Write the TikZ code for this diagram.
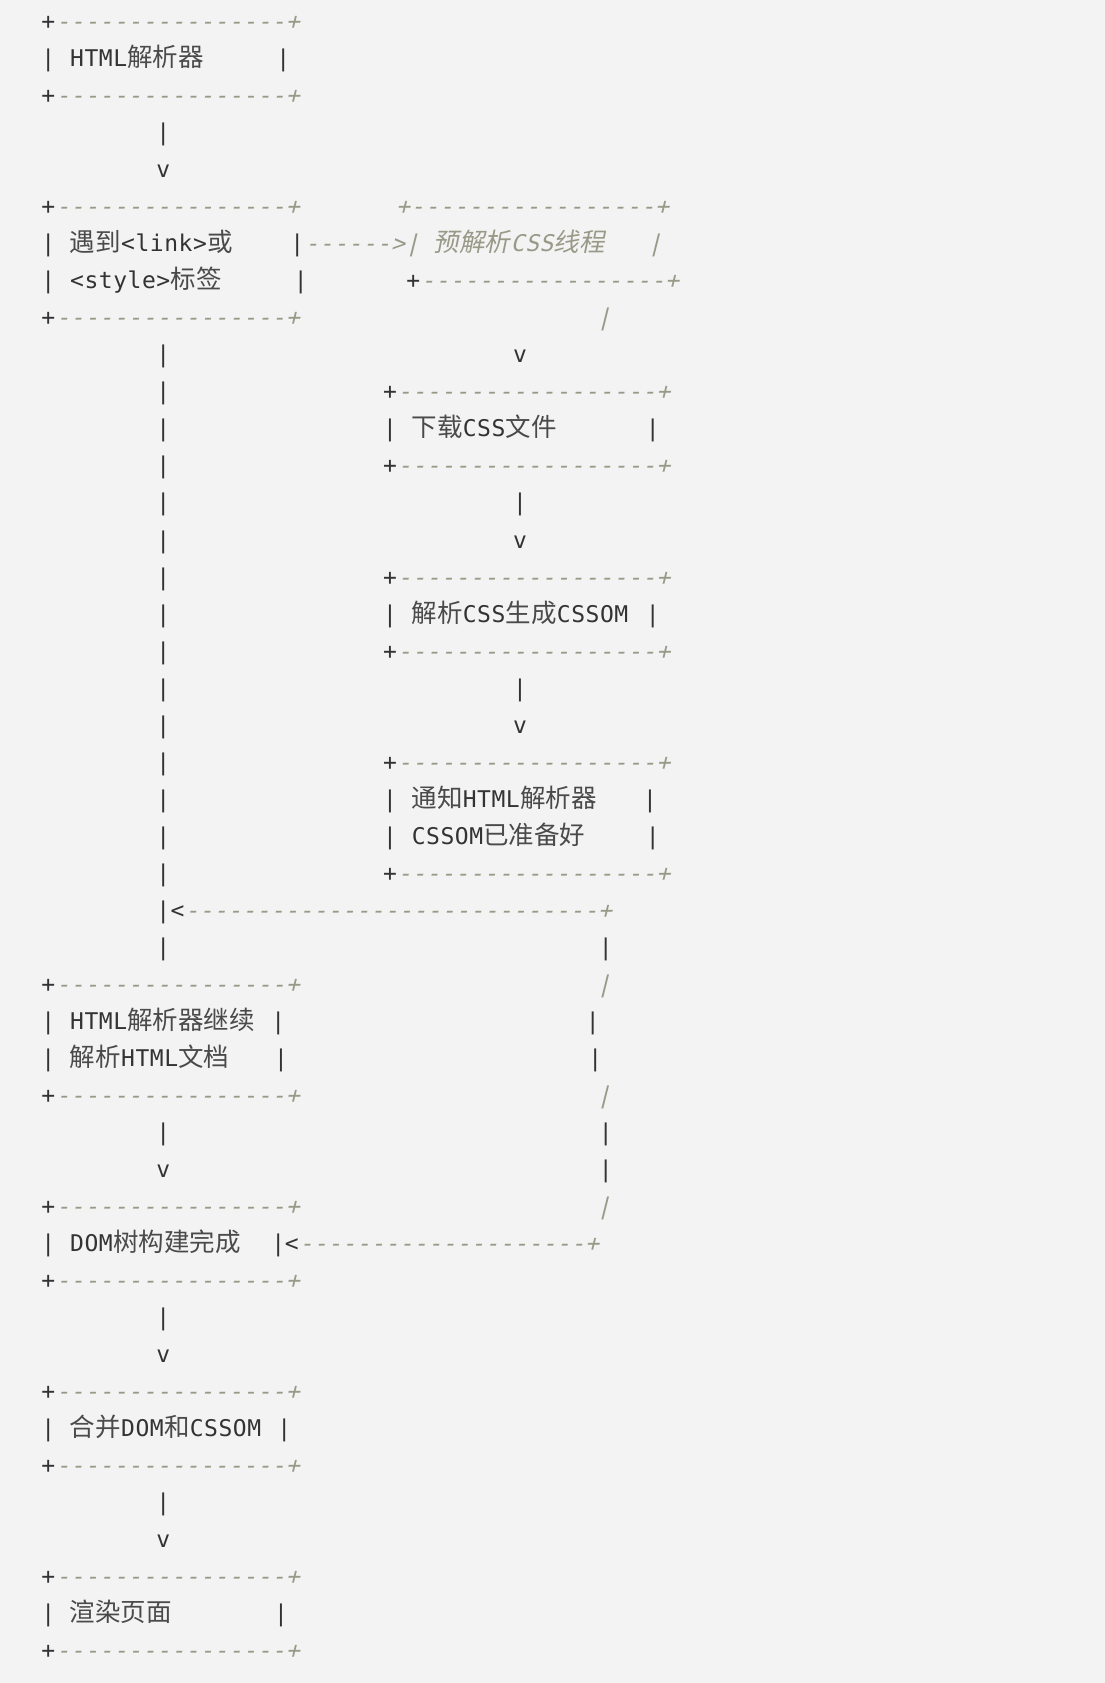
\documentclass[tikz,border=0pt]{standalone}
\usepackage{fontspec}
\newfontfamily\monof[ItalicFont={DejaVu Sans Mono}, ItalicFeatures={FakeSlant=0.25}]{DejaVu Sans Mono}
\newfontfamily\cjkf{Noto Sans CJK SC}
\newfontfamily\cjkitf[FakeSlant=0.2]{Noto Sans CJK SC}
\definecolor{bgc}{HTML}{F3F3F3}
\definecolor{dk}{HTML}{333333}
\definecolor{cjc}{HTML}{4A4A4A}
\definecolor{gr}{HTML}{999988}
\newlength\cw
\setlength\cw{14.38pt}
\makeatletter
\def\mc@end{mc@end}
\def\mc#1{\mc@a#1\mc@end}
\def\mc@a#1{\ifx#1\mc@end\else\ifx#1_\makebox[\cw]{}\else\makebox[\cw][c]{#1}\fi\expandafter\mc@a\fi}
\makeatother
\newcommand\cD{\color{dk}\upshape}
\newcommand\cG{\color{gr}\itshape}
\newcommand\cj[1]{{\cjkf\fontsize{25.5}{30}\selectfont\color{cjc}#1}}
\newcommand\cji[1]{{\cjkitf\fontsize{25.5}{30}\selectfont\color{gr}#1}}
\tikzset{seg/.style={anchor=base west, inner sep=0pt, outer sep=0pt,
  font=\monof\fontsize{23}{28}\selectfont, text=dk}}
% name, x centre of first cell, row, cell width, content
\newcommand\seg[5]{\node[seg] (#1) at ({#2-#4/2},{-(29.6+37.03*#3)}) {\setlength\cw{#4pt}#5};}
\newcommand\LBox[2]{\seg{#1}{48.3}{#2}{14.38}{\cD\mc{+}\cG\mc{----------------+}}}
\newcommand\RBox[2]{\seg{#1}{390}{#2}{14.38}{\cD\mc{+}\cG\mc{------------------+}}}
\begin{document}
\begin{tikzpicture}[x=1pt,y=1pt]
\fill[bgc] (0,0) rectangle (1105,-1683);
\useasboundingbox (0,0) rectangle (1105,-1683);
% left column boxes
\foreach \k in {0,2,5,8,26,29,32,34,37,39,42,44} {\LBox{lb\k}{\k}}
% right column boxes
\foreach \k in {10,12,15,17,20,23} {\RBox{rb\k}{\k}}
% left vertical connector
\foreach \k in {3,9,10,11,12,13,14,15,16,17,18,19,20,21,22,23,25,30,35,40} {\seg{lv\k}{163.3}{\k}{14.38}{\cD\mc{|}}}
\foreach \k in {4,31,36,41} {\seg{lh\k}{163.3}{\k}{14.38}{\cD\mc{v}}}
% right column connector
\foreach \k in {13,18} {\seg{rv\k}{520}{\k}{14.38}{\cD\mc{|}}}
\foreach \k in {9,14,19} {\seg{rh\k}{520}{\k}{14.38}{\cD\mc{v}}}
% far right return line
\foreach \k in {25,30,31} {\seg{fv\k}{605.7}{\k}{14.38}{\cD\mc{|}}}
\foreach \k in {8,26,29,32} {\seg{fg\k}{603.7}{\k}{14.38}{\cG\mc{|}}}
\seg{fv27}{592.7}{27}{14.38}{\cD\mc{|}}
\seg{fv28}{595.3}{28}{14.38}{\cD\mc{|}}
% row 1
\seg{t1}{48.3}{1}{14.38}{\cD\mc{|_HTML}\cj{解析器}}
\seg{e1}{283.3}{1}{14.38}{\cD\mc{|}}
% row 5 right box top
\seg{p5}{403}{5}{14.4}{\cG\mc{+-----------------+}}
% row 6
\seg{t6}{48.3}{6}{14.38}{\cD\mc{|_}\cj{遇到}\mc{<link>}\cj{或}}
\seg{e6}{297.3}{6}{14.38}{\cD\mc{|}\cG\mc{------>|_}\cji{预解析}\mc{CSS}\cji{线程}\mc{___|}}
% row 7
\seg{t7}{48.3}{7}{14.38}{\cD\mc{|_<style>}\cj{标签}}
\seg{e7}{300.7}{7}{14.38}{\cD\mc{|}}
\seg{p7}{413.3}{7}{14.38}{\cD\mc{+}\cG\mc{-----------------+}}
% right column texts
\seg{t11}{390}{11}{14.38}{\cD\mc{|_}\cj{下载}\mc{CSS}\cj{文件}}
\seg{e11}{652.7}{11}{14.38}{\cD\mc{|}}
\seg{t16}{390}{16}{14.38}{\cD\mc{|_}\cj{解析}\mc{CSS}\cj{生成}\mc{CSSOM}}
\seg{e16}{652.7}{16}{14.38}{\cD\mc{|}}
\seg{t21}{390}{21}{14.38}{\cD\mc{|_}\cj{通知}\mc{HTML}\cj{解析器}}
\seg{e21}{650}{21}{14.38}{\cD\mc{|}}
\seg{t22}{390}{22}{14.38}{\cD\mc{|_CSSOM}\cj{已准备好}}
\seg{e22}{652.7}{22}{14.38}{\cD\mc{|}}
% row 24 return arrow
\seg{a24}{163.3}{24}{14.2}{\cD\mc{|<}}
\seg{d24}{191.8}{24}{14.25}{\cG\mc{-----------------------------+}}
% rows 27, 28
\seg{t27}{48.3}{27}{14.38}{\cD\mc{|_HTML}\cj{解析器继续}}
\seg{e27}{278.3}{27}{14.38}{\cD\mc{|}}
\seg{t28}{48.3}{28}{14.38}{\cD\mc{|_}\cj{解析}\mc{HTML}\cj{文档}}
\seg{e28}{281}{28}{14.38}{\cD\mc{|}}
% row 33
\seg{t33}{48.3}{33}{14.38}{\cD\mc{|_DOM}\cj{树构建完成}}
\seg{a33}{278.3}{33}{13.4}{\cD\mc{|<}}
\seg{d33}{306}{33}{14.3}{\cG\mc{--------------------+}}
% row 38
\seg{t38}{48.3}{38}{14.38}{\cD\mc{|_}\cj{合并}\mc{DOM}\cj{和}\mc{CSSOM}}
\seg{e38}{284.3}{38}{14.38}{\cD\mc{|}}
% row 43
\seg{t43}{48.3}{43}{14.38}{\cD\mc{|_}\cj{渲染页面}}
\seg{e43}{281}{43}{14.38}{\cD\mc{|}}
\end{tikzpicture}
\end{document}
